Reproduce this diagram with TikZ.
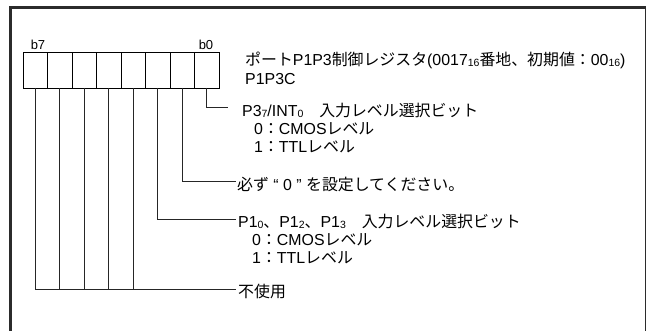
\documentclass[tikz,border=0pt]{standalone}
\usepackage{fontspec}
\setmainfont{Liberation Sans}
\newfontfamily\jpf{Noto Sans CJK JP}
\newcommand\jp[1]{{\jpf #1}}
\newcommand\sbn[1]{\raisebox{-0.6pt}{\fontsize{10.5}{10.5}\selectfont #1}}
\definecolor{framec}{HTML}{2B2B2B}
\tikzset{
  cell/.style={draw=black, line width=0.9pt, minimum width=24.5pt, minimum height=36pt, inner sep=0pt, outer sep=0pt},
  conn/.style={draw=black!85, line width=0.9pt},
  txt/.style={anchor=base west, inner sep=0pt, font=\fontsize{15.9}{18}\selectfont},
  bitlab/.style={anchor=base, inner sep=0pt, font=\fontsize{13}{14}\selectfont},
  frameline/.style={draw=framec, line width=3pt},
}
\begin{document}
\begin{tikzpicture}[x=1pt,y=-1pt]
\useasboundingbox (0,0) rectangle (646,331);
% frame
\draw[frameline] (10,331) -- (10,8) -- (646,8);
\draw[draw=framec, line width=1pt] (645,8) -- (645,331);
% register cells
\foreach \i in {0,...,7}{
  \pgfmathsetmacro{\cx}{23+24.5*(7-\i)+12.25}
  \node[cell] (c\i) at (\cx,70) {};
}
\node[bitlab] (lb7) at (38,50) {b7};
\node[bitlab] (lb0) at (206,50) {b0};
% title
\node[txt] (title) at (245,66) {\jp{ポート}P1P3\jp{制御レジスタ}(0017\sbn{16}\jp{番地、初期値：}00\sbn{16})};
\node[txt] (name) at (245,85) {P1P3C};
% bit 0
\coordinate (e0) at (228,107.7);
\draw[conn] (c0.south) |- (e0);
\node[txt] (t37) at (242,117) {P3\sbn{7}/INT\sbn{0}\jp{　入力レベル選択ビット}};
\node[txt] (t37a) at (254,135) {0\jp{：}CMOS\jp{レベル}};
\node[txt] (t37b) at (254,152.5) {1\jp{：}TTL\jp{レベル}};
% bit 1
\coordinate (e1) at (236,181.5);
\draw[conn] (c1.south) |- (e1);
\node[txt] (t1) at (237,191) {\jp{必ず} “ 0 ” \jp{を設定してください。}};
% bit 2
\coordinate (e2) at (236,219);
\draw[conn] (c2.south) |- (e2);
\node[txt] (t10) at (238,228) {P1\sbn{0}\jp{、}P1\sbn{2}\jp{、}P1\sbn{3}\jp{　入力レベル選択ビット}};
\node[txt] (t10a) at (252,246) {0\jp{：}CMOS\jp{レベル}};
\node[txt] (t10b) at (252,264) {1\jp{：}TTL\jp{レベル}};
% bits 3-7
\coordinate (e7) at (236,289.3);
\draw[conn] (c7.south) |- (e7);
\foreach \i in {3,...,6}{
  \draw[conn] (c\i.south) -- (c\i.south |- e7);
}
\node[txt] (tn) at (238,298) {\jp{不使用}};
\end{tikzpicture}
\end{document}
